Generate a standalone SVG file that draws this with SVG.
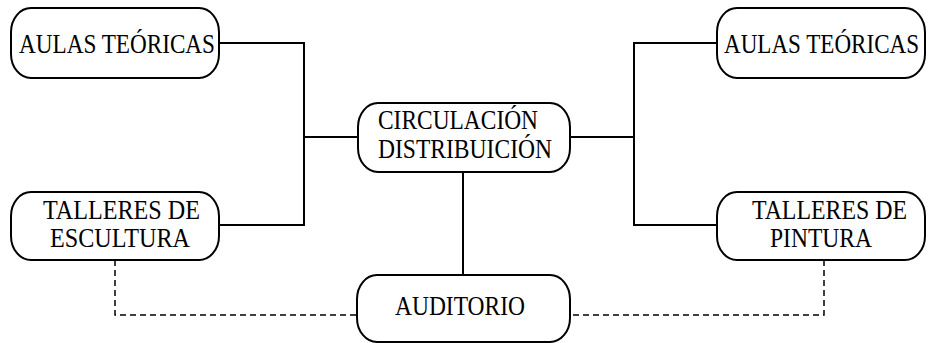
<svg xmlns="http://www.w3.org/2000/svg" width="929" height="343" viewBox="0 0 929 343">
<style>
.box{fill:#fff;stroke:#000;stroke-width:2}
.t{font-family:"Liberation Serif","Times New Roman",serif;font-size:24px;fill:#000}
.ln{fill:none;stroke:#000;stroke-width:2}
.dash{fill:none;stroke:#000;stroke-width:1.5;stroke-dasharray:6 4}
</style>
<rect width="929" height="343" fill="#fff"/>
<g id="connectors">
<polyline class="ln" points="219,43 304,43 304,225 219,225"/>
<line class="ln" x1="304" y1="137" x2="358" y2="137"/>
<polyline class="ln" points="717,43 634,43 634,225 717,225"/>
<line class="ln" x1="570" y1="137" x2="634" y2="137"/>
<line class="ln" x1="463" y1="172" x2="463" y2="275"/>
<polyline class="dash" points="115,260 115,315 357,315"/>
<polyline class="dash" points="824,260 824,315 570,315"/>
</g>
<g id="aulas-izq">
<rect class="box" x="11" y="8" width="208" height="70" rx="20" ry="24"/>
<text class="t" transform="translate(19,53) scale(1,1.125)" textLength="196" lengthAdjust="spacingAndGlyphs">AULAS TEÓRICAS</text>
</g>
<g id="aulas-der">
<rect class="box" x="717" y="8" width="208" height="70" rx="20" ry="24"/>
<text class="t" transform="translate(724,53) scale(1,1.125)" textLength="195" lengthAdjust="spacingAndGlyphs">AULAS TEÓRICAS</text>
</g>
<g id="circulacion">
<rect class="box" x="358" y="103" width="212" height="69" rx="20" ry="24"/>
<text class="t" transform="translate(378,129) scale(1,1.125)" textLength="160" lengthAdjust="spacingAndGlyphs">CIRCULACIÓN</text>
<text class="t" transform="translate(378,158) scale(1,1.125)" textLength="174" lengthAdjust="spacingAndGlyphs">DISTRIBUICIÓN</text>
</g>
<g id="talleres-escultura">
<rect class="box" x="11" y="192" width="208" height="68" rx="20" ry="24"/>
<text class="t" transform="translate(43,219) scale(1,1.125)" textLength="157" lengthAdjust="spacingAndGlyphs">TALLERES DE</text>
<text class="t" transform="translate(50,247) scale(1,1.125)" textLength="140" lengthAdjust="spacingAndGlyphs">ESCULTURA</text>
</g>
<g id="talleres-pintura">
<rect class="box" x="717" y="192" width="208" height="68" rx="20" ry="24"/>
<text class="t" transform="translate(752,219) scale(1,1.125)" textLength="155" lengthAdjust="spacingAndGlyphs">TALLERES DE</text>
<text class="t" transform="translate(770,247) scale(1,1.125)" textLength="102" lengthAdjust="spacingAndGlyphs">PINTURA</text>
</g>
<g id="auditorio">
<rect class="box" x="357" y="275" width="213" height="67" rx="20" ry="24"/>
<text class="t" transform="translate(395,315) scale(1,1.125)" textLength="130" lengthAdjust="spacingAndGlyphs">AUDITORIO</text>
</g>
</svg>
